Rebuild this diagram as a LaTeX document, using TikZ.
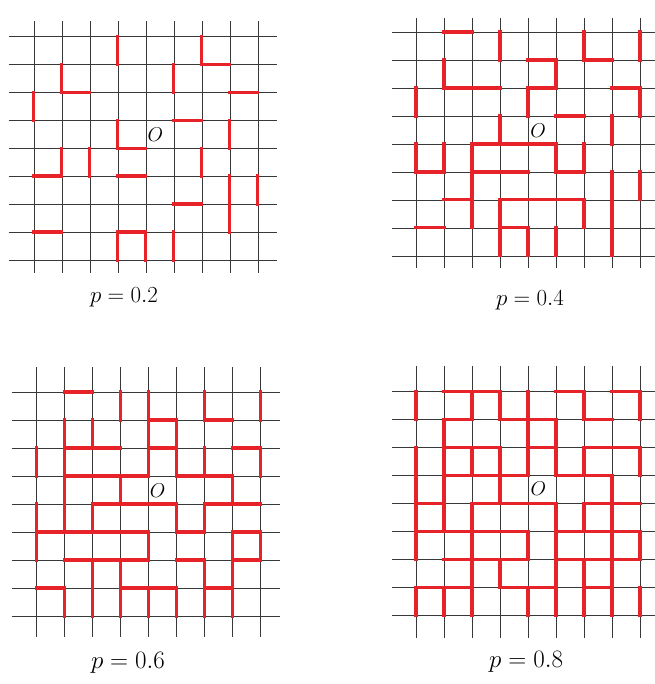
\RequirePackage{fix-cm}
\documentclass[tikz,border=0pt]{standalone}
\usetikzlibrary{positioning}
\definecolor{bondred}{RGB}{230,35,40}

\begin{document}
\begin{tikzpicture}[
  x=28pt, y=28pt,
  gridline/.style={draw=black!78, line width=0.7pt},
  bond/.style={draw=bondred, line width=3.2pt, line cap=rect},
  origin/.style={font=\fontsize{20}{24}\selectfont, inner sep=0pt},
  plabel/.style={font=\fontsize{23}{27}\selectfont, inner sep=1pt},
  plabelbig/.style={font=\fontsize{25}{29}\selectfont, inner sep=1pt}
]
\useasboundingbox (0,0) rectangle (23.39,24.43);

% p = 0.2, top left
\begin{scope}[shift={(1.21,15.14)}]
  \foreach \k in {0,...,8} {
    \draw[gridline] (-0.9,\k) -- (8.7,\k);
    \draw[gridline] (\k,-0.45) -- (\k,8.55);
  }
  \foreach \y/\a/\b in {7/6/7, 6/1/2, 6/7/8, 5/5/6, 4/3/4, 3/0/1, 3/3/4, 2/5/6, 1/0/1, 1/3/4}
    \draw[bond] (\a,\y) -- (\b,\y);
  \foreach \x/\a/\b in {0/6/5, 1/7/6, 1/4/3, 2/4/3, 3/8/7, 3/5/4, 3/1/0, 4/1/0, 5/7/6, 5/1/0,
      6/8/7, 6/4/3, 7/5/4, 7/3/1, 8/3/2}
    \draw[bond] (\x,\a) -- (\x,\b);
  \node[origin] (O1) at (4.34,4.48) {$O$};
\end{scope}
\node[plabel] (p1) at (4.43,13.82) {$p=0.2$};

% p = 0.4, top right
\begin{scope}[shift={(14.86,15.29)}]
  \foreach \k in {0,...,8} {
    \draw[gridline] (-0.86,\k) -- (8.6,\k);
    \draw[gridline] (\k,-0.43) -- (\k,8.5);
  }
  \foreach \y/\a/\b in {8/1/2, 7/4/5, 7/6/7, 6/1/3, 6/4/5, 6/7/8, 5/5/6, 4/2/5, 3/0/1, 3/2/4,
      3/5/6, 2/1/2, 2/3/6, 1/0/1, 1/3/4}
    \draw[bond] (\a,\y) -- (\b,\y);
  \foreach \x/\a/\b in {0/6/5, 0/4/3, 1/7/6, 1/4/3, 2/4/1, 3/8/7, 3/5/4, 3/2/0, 4/6/5, 4/1/0,
      5/7/6, 5/4/3, 5/1/0, 6/8/7, 6/4/3, 6/2/1, 7/5/4, 7/3/0, 8/8/7, 8/6/5, 8/3/2}
    \draw[bond] (\x,\a) -- (\x,\b);
  \node[origin] (O2) at (4.36,4.46) {$O$};
\end{scope}
\node[plabel] (p2) at (18.93,13.71) {$p=0.4$};

% p = 0.6, bottom left
\begin{scope}[shift={(1.29,2.43)}]
  \foreach \k in {0,...,8} {
    \draw[gridline] (-0.86,\k) -- (8.7,\k);
    \draw[gridline] (\k,-0.75) -- (\k,8.9);
  }
  \foreach \y/\a/\b in {8/1/2, 7/4/5, 7/6/7, 6/1/3, 6/4/5, 6/7/8, 5/1/4, 5/5/7, 4/2/5, 4/6/8,
      3/0/4, 3/5/6, 3/7/8, 2/1/4, 2/5/6, 2/7/8, 1/0/1, 1/3/5, 1/6/7}
    \draw[bond] (\a,\y) -- (\b,\y);
  \foreach \x/\a/\b in {0/6/5, 0/4/2, 1/7/3, 1/1/0, 2/7/6, 2/4/3, 2/2/0, 3/8/7, 3/5/4, 3/2/0,
      4/8/5, 4/3/2, 4/1/0, 5/7/5, 5/4/3, 5/1/0, 6/8/7, 6/6/5, 6/4/3, 6/2/0, 7/5/4, 7/3/0,
      8/8/7, 8/6/5, 8/3/2}
    \draw[bond] (\x,\a) -- (\x,\b);
  \node[origin] (O3) at (4.34,4.46) {$O$};
\end{scope}
\node[plabelbig] (p3) at (4.57,0.75) {$p=0.6$};

% p = 0.8, bottom right
\begin{scope}[shift={(14.86,2.46)}]
  \foreach \k in {0,...,8} {
    \draw[gridline] (-0.86,\k) -- (8.6,\k);
    \draw[gridline] (\k,-0.8) -- (\k,8.9);
  }
  \foreach \y/\a/\b in {8/1/3, 8/5/6, 8/7/8, 7/1/2, 7/3/5, 7/6/7, 6/1/3, 6/4/5, 6/6/8, 5/1/4,
      5/5/7, 4/0/1, 4/2/5, 4/6/8, 3/0/4, 3/5/8, 2/1/4, 2/5/8, 1/0/2, 1/3/5, 1/6/7}
    \draw[bond] (\a,\y) -- (\b,\y);
  \foreach \x/\a/\b in {0/8/7, 0/6/2, 0/1/0, 1/7/3, 1/1/0, 2/8/7, 2/6/5, 2/4/0, 3/8/7, 3/6/4,
      3/2/1, 4/8/5, 4/3/2, 4/1/0, 5/7/5, 5/4/0, 6/8/7, 6/6/5, 6/4/3, 6/2/0, 7/5/0, 8/8/7,
      8/6/5, 8/3/2, 8/1/0}
    \draw[bond] (\x,\a) -- (\x,\b);
  \node[origin] (O4) at (4.37,4.51) {$O$};
\end{scope}
\node[plabelbig] (p4) at (18.79,0.79) {$p=0.8$};

\end{tikzpicture}
\end{document}
